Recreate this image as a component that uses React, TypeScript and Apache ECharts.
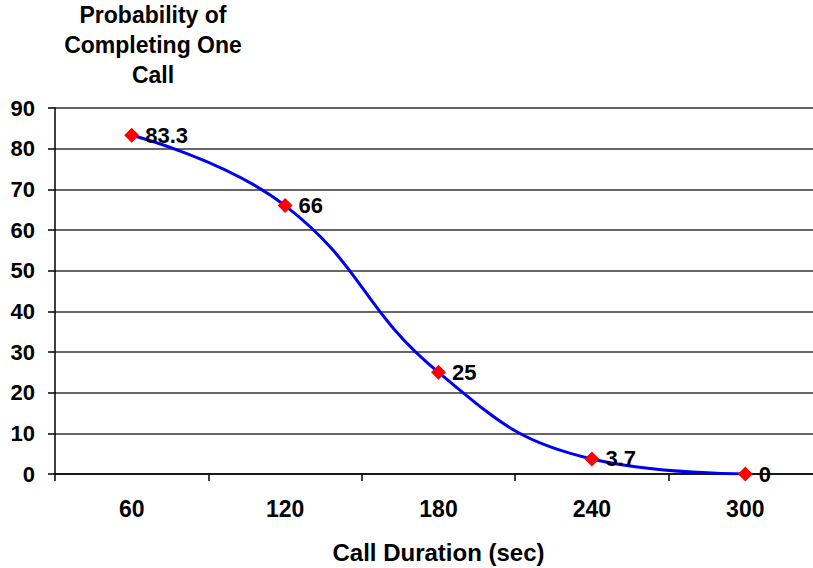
import React, { useEffect, useRef } from "react";
import * as echarts from "echarts";

const categories = ["60", "120", "180", "240", "300"];
const probabilities = [83.3, 66, 25, 3.7, 0];
const titleLines = ["Probability of", "Completing One", "Call"];
const xAxisName = "Call Duration (sec)";

const FONT = "'Liberation Sans', Arial, sans-serif";

export default function App() {
  const ref = useRef<HTMLDivElement>(null);
  useEffect(() => {
    if (!ref.current) return;
    const chart = echarts.init(ref.current, null, { renderer: "svg" });
    chart.setOption({
      animation: false,
      backgroundColor: "#ffffff",
      textStyle: { fontFamily: FONT },
      graphic: [
        {
          type: "text",
          x: 153,
          y: 0,
          style: {
            text: titleLines.join("\n"),
            textAlign: "center",
            textVerticalAlign: "top",
            font: `bold 23px ${FONT}`,
            lineHeight: 30,
            fill: "#000",
          },
        },
      ],
      grid: { left: 55, top: 108, width: 767, height: 366, outerBoundsMode: "none", containLabel: false },
      xAxis: {
        type: "category",
        data: categories,
        boundaryGap: true,
        name: xAxisName,
        nameLocation: "middle",
        nameGap: 66,
        nameTextStyle: { fontFamily: FONT, fontWeight: "bold", fontSize: 24, color: "#000" },
        axisLine: { lineStyle: { color: "#000", width: 1.5 } },
        axisTick: { show: true, length: 7, lineStyle: { color: "#000", width: 1.5 } },
        axisLabel: { fontFamily: FONT, fontWeight: "bold", fontSize: 23, color: "#000", margin: 23 },
        splitLine: { show: false },
      },
      yAxis: {
        type: "value",
        min: 0,
        max: 90,
        interval: 10,
        axisLine: { show: true, lineStyle: { color: "#000", width: 1.5 } },
        axisTick: { show: true, length: 7, lineStyle: { color: "#000", width: 1.5 } },
        axisLabel: { fontFamily: FONT, fontWeight: "bold", fontSize: 22, color: "#000", margin: 20 },
        splitLine: { show: true, lineStyle: { color: "#333", width: 1.5 } },
      },
      series: [
        {
          type: "line",
          data: probabilities,
          smooth: 0.45,
          symbol: "diamond",
          symbolSize: 15,
          itemStyle: { color: "#ff0000" },
          lineStyle: { color: "#0000ee", width: 3 },
          label: {
            show: true,
            position: "right",
            distance: 6,
            fontFamily: FONT,
            fontWeight: "bold",
            fontSize: 22,
            color: "#000",
          },
          z: 3,
        },
      ],
    });
    return () => chart.dispose();
  }, []);
  return (
    <div
      ref={ref}
      style={{ position: "fixed", left: 0, top: 0, width: 813, height: 568, background: "#fff" }}
    />
  );
}
